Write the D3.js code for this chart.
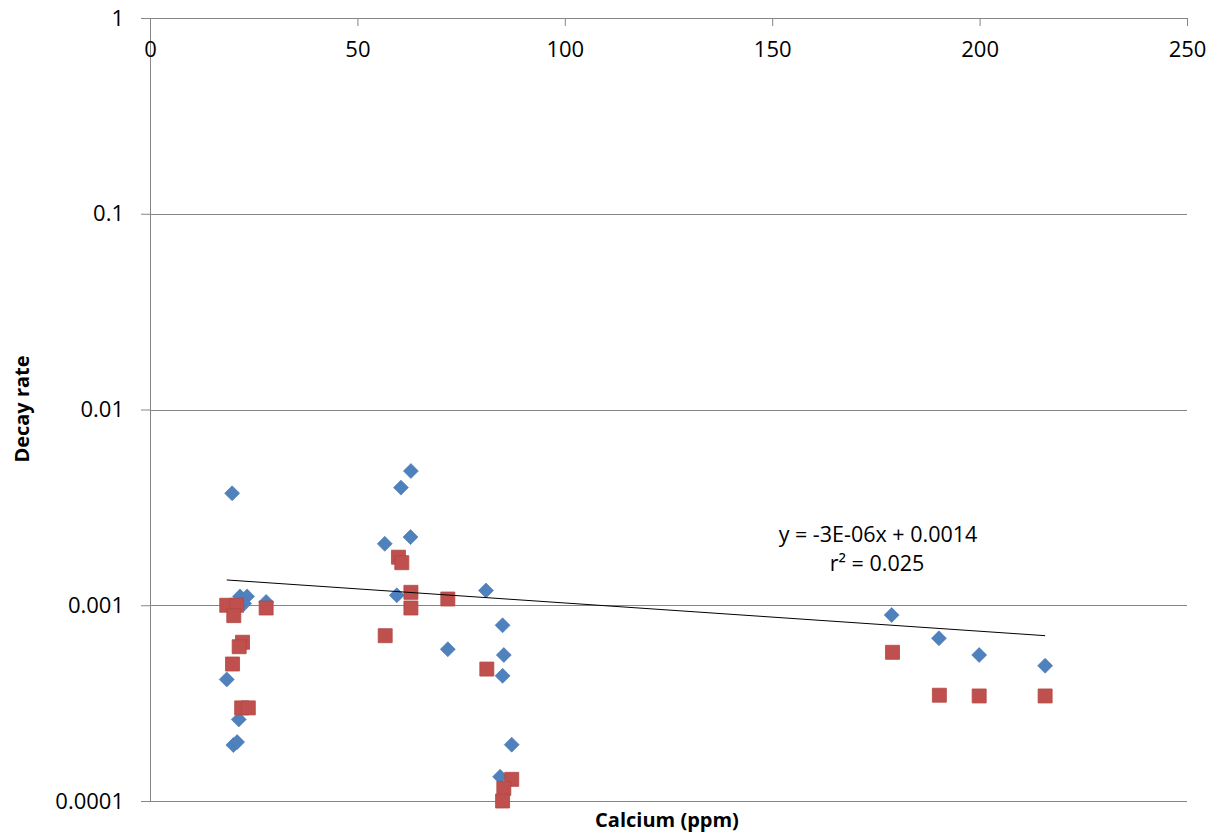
<!DOCTYPE html>
<html><head><meta charset="utf-8">
<script src="https://cdn.jsdelivr.net/npm/d3@7"></script>
<style>
body{margin:0;background:#fff;}
text{font-family:"Open Sans",sans-serif;}
</style></head>
<body><svg id="c" width="1216" height="834"></svg>
<script>
// Series 1 (blue diamonds)
const blueX = [19.8, 21.7, 23.4, 22.7, 28.0, 18.5, 21.4, 20.1, 21.0,
  62.9, 60.5, 62.8, 56.6, 59.5, 81.0, 85.0, 71.8, 85.3, 85.0, 87.2, 84.4,
  178.8, 190.2, 199.9, 215.8];
const blueY = [0.00373, 0.00111, 0.00111, 0.00102, 0.00104, 0.000418, 0.000261, 0.000193, 0.000200,
  0.00485, 0.00399, 0.00223, 0.00206, 0.001124, 0.00119, 0.00079, 0.000596, 0.000557, 0.000436, 0.000194, 0.000133,
  0.000891, 0.000678, 0.000557, 0.000491];
// Series 2 (red squares)
const redX = [18.5, 20.9, 20.2, 28.0, 22.3, 21.5, 19.9, 22.1, 23.7,
  59.9, 60.7, 62.9, 62.9, 71.8, 56.7, 81.2, 87.2, 85.3, 85.0,
  179.0, 190.3, 199.9, 215.8];
const redY = [0.001, 0.001, 0.000885, 0.000968, 0.000647, 0.000614, 0.000501, 0.000299, 0.000299,
  0.00176, 0.00165, 0.001164, 0.000968, 0.001076, 0.000699, 0.000472, 0.000129, 0.000116, 0.0001,
  0.000575, 0.000347, 0.000344, 0.000344];
// Trendline (linear, drawn over blue series x-range)
const trendCoef = [-3.28e-6, 0.001407];
const trendLabel = ["y = -3E-06x + 0.0014", "r² = 0.025"];
// Axes
const xTicks = [0, 50, 100, 150, 200, 250];
const yTicks = [1, 0.1, 0.01, 0.001, 0.0001];
const yTickLabels = ["1", "0.1", "0.01", "0.001", "0.0001"];
const xTitle = "Calcium (ppm)";
const yTitle = "Decay rate";

const svg = d3.select("#c");
const x = d3.scaleLinear().domain([0, 250]).range([150, 1187]);
const y = d3.scaleLog().domain([0.0001, 1]).range([801, 18]);
const grey = "#868686";

// gridlines
svg.append("g").selectAll("line").data(yTicks).join("line")
  .attr("x1", x(0)).attr("x2", x(250))
  .attr("y1", d => Math.round(y(d)) + 0.5).attr("y2", d => Math.round(y(d)) + 0.5)
  .attr("stroke", grey).attr("stroke-width", 1);

// y axis
const ya = svg.append("g").attr("transform", `translate(${x(0)},0)`)
  .call(d3.axisLeft(y).tickValues(yTicks).tickFormat((d, i) => yTickLabels[i]).tickSize(9).tickPadding(17).tickSizeOuter(0));
ya.select(".domain").attr("stroke", grey);
ya.selectAll(".tick line").attr("stroke", grey);
ya.selectAll(".tick text").attr("font-size", 22).attr("fill", "#000").attr("font-family", "Open Sans");

// x axis on top (crosses at y = 1)
const xa = svg.append("g").attr("transform", `translate(0,${y(1)})`)
  .call(d3.axisBottom(x).tickValues(xTicks).tickFormat(d3.format("d")).tickSize(8).tickPadding(15).tickSizeOuter(0));
xa.select(".domain").attr("stroke", grey);
xa.selectAll(".tick line").attr("stroke", grey);
xa.selectAll(".tick text").attr("font-size", 22).attr("fill", "#000").attr("font-family", "Open Sans");

// points
const blue = blueX.map((v, i) => [v, blueY[i]]);
const red = redX.map((v, i) => [v, redY[i]]);
svg.append("g").selectAll("path").data(blue).join("path")
  .attr("d", d3.symbol(d3.symbolSquare, 112)())
  .attr("transform", d => `translate(${x(d[0])},${y(d[1])}) rotate(45)`)
  .attr("fill", "#4F81BD").attr("stroke", "#4A7AB5").attr("stroke-width", 0.6);
svg.append("g").selectAll("path").data(red).join("path")
  .attr("d", d3.symbol(d3.symbolSquare, 196)())
  .attr("transform", d => `translate(${x(d[0])},${y(d[1])})`)
  .attr("fill", "#C0504D").attr("stroke", "#B04744").attr("stroke-width", 0.8);

// trendline
const tx = d3.extent(blueX);
svg.append("line")
  .attr("x1", x(tx[0])).attr("y1", y(trendCoef[1] + trendCoef[0] * tx[0]))
  .attr("x2", x(tx[1])).attr("y2", y(trendCoef[1] + trendCoef[0] * tx[1]))
  .attr("stroke", "#000").attr("stroke-width", 1);

// trend label
svg.append("text").attr("x", 878).attr("y", 542).attr("text-anchor", "middle")
  .attr("font-size", 21.5).text(trendLabel[0]);
svg.append("text").attr("x", 877).attr("y", 571).attr("text-anchor", "middle")
  .attr("font-size", 21.5).text(trendLabel[1]);

// axis titles
svg.append("text").attr("x", 667).attr("y", 827).attr("text-anchor", "middle")
  .attr("font-size", 20).attr("font-weight", "bold").text(xTitle);
svg.append("text").attr("transform", "translate(29,409) rotate(-90)").attr("text-anchor", "middle")
  .attr("font-size", 20).attr("font-weight", "bold").text(yTitle);
</script></body></html>
